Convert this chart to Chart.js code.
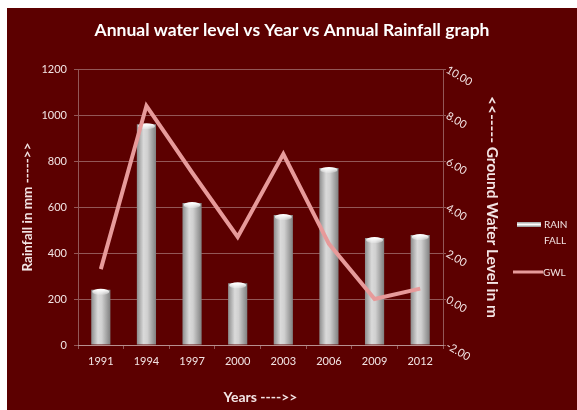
<!DOCTYPE html>
<html>
<head>
<meta charset="utf-8">
<script src="https://cdn.jsdelivr.net/npm/chart.js@4.4.1/dist/chart.umd.min.js"></script>
<style>
  html, body { margin: 0; padding: 0; background: #fff; }
  #marco { position: absolute; left: 7px; top: 8px; width: 570px; height: 402px; background: #5c0000; }
</style>
</head>
<body>
<div id="marco"><canvas id="grafico" width="570" height="402"></canvas></div>
<script>
const years = ['1991', '1994', '1997', '2000', '2003', '2006', '2009', '2012'];
const rainfall = [240, 960, 617, 268, 565, 770, 465, 478];
const gwl = [1.3, 8.4, 5.5, 2.7, 6.3, 2.4, 0.0, 0.45];
const rainTicks = [0, 200, 400, 600, 800, 1000, 1200];
const gwlTicks = [-2, 0, 2, 4, 6, 8, 10];

const textoClaro = '#f3e4e4';
const colorLinea = '#e79a9a';
const colorGrid = 'rgba(255,255,255,0.34)';
const anchoBarra = 0.42;

Chart.defaults.font.family = 'Lato, "Open Sans", sans-serif';
Chart.defaults.color = textoClaro;

// gris cilindrico: oscuro en los bordes, claro al centro
function degradadoBarra(c) {
  const xs = c.chart.scales.x;
  if (!xs || c.type !== 'data') return '#bdbdbd';
  const cx = xs.getPixelForValue(c.dataIndex);
  const w = xs.width / years.length * anchoBarra;
  if (!Number.isFinite(cx) || !Number.isFinite(w) || w <= 0) return '#bdbdbd';
  const g = c.chart.ctx.createLinearGradient(cx - w / 2, 0, cx + w / 2, 0);
  g.addColorStop(0, '#8c8c8c');
  g.addColorStop(0.35, '#dadada');
  g.addColorStop(0.55, '#d0d0d0');
  g.addColorStop(1, '#808080');
  return g;
}

// tapa blanca arriba de cada barra
const tapas = {
  id: 'tapas',
  afterDatasetDraw(chart, args) {
    if (args.index !== 0) return;
    const c = chart.ctx;
    c.save();
    args.meta.data.forEach(b => {
      if (!Number.isFinite(b.x) || !Number.isFinite(b.y)) return;
      const g = c.createLinearGradient(0, b.y, 0, b.y + 5);
      g.addColorStop(0, '#ffffff');
      g.addColorStop(1, 'rgba(255,255,255,0.2)');
      c.fillStyle = g;
      c.beginPath();
      c.ellipse(b.x, b.y + 2, Math.max(b.width / 2 - 1, 1), 3, 0, 0, Math.PI * 2);
      c.fill();
    });
    c.restore();
  }
};

const leyenda = {
  id: 'leyenda',
  afterDraw(chart) {
    const c = chart.ctx;
    c.save();
    const g = c.createLinearGradient(0, 214, 0, 219);
    g.addColorStop(0, '#9a9a9a');
    g.addColorStop(0.5, '#ffffff');
    g.addColorStop(1, '#8a8a8a');
    c.fillStyle = g;
    c.fillRect(510, 214, 24, 5);
    c.strokeStyle = colorLinea;
    c.lineWidth = 3;
    c.beginPath();
    c.moveTo(506, 264);
    c.lineTo(536, 264);
    c.stroke();
    c.fillStyle = textoClaro;
    c.font = '10px Lato';
    c.textBaseline = 'middle';
    c.fillText('RAIN', 537, 217);
    c.fillText('FALL', 537, 233);
    c.fillText('GWL', 536, 265);
    c.restore();
  }
};

new Chart(document.getElementById('grafico'), {
  type: 'bar',
  data: {
    labels: years,
    datasets: [{
      label: 'RAIN FALL',
      data: rainfall,
      backgroundColor: degradadoBarra,
      borderWidth: 0,
      categoryPercentage: 1,
      barPercentage: anchoBarra,
      yAxisID: 'y',
      order: 1
    }, {
      type: 'line',
      label: 'GWL',
      data: gwl,
      borderColor: colorLinea,
      borderWidth: 4,
      pointRadius: 0,
      tension: 0,
      yAxisID: 'y1',
      order: 0
    }]
  },
  options: {
    responsive: false,
    animation: false,
    devicePixelRatio: 1,
    layout: { padding: 0 },
    plugins: {
      legend: { display: false },
      tooltip: { enabled: false },
      title: {
        display: true,
        text: 'Annual water level vs Year vs Annual Rainfall graph',
        color: '#ffffff',
        font: { size: 17.5, weight: 'bold' },
        padding: { top: 11.5, bottom: 28.5 }
      }
    },
    scales: {
      x: {
        afterFit: s => { s.height = 65; },
        grid: { drawOnChartArea: false, color: colorGrid, tickLength: 4 },
        border: { color: colorGrid },
        ticks: { padding: 6, maxRotation: 0, font: { size: 11 }, color: textoClaro },
        title: { display: true, text: 'Years ---->>', font: { size: 14, weight: 'bold' }, color: textoClaro, padding: { top: 0, bottom: 4.6 } }
      },
      y: {
        position: 'left',
        min: 0,
        max: 1200,
        afterBuildTicks: s => { s.ticks = rainTicks.map(v => ({ value: v })); },
        afterFit: s => { s.width = 71; },
        grid: { color: colorGrid, tickLength: 4 },
        border: { color: colorGrid },
        ticks: { padding: 7, font: { size: 11 }, color: textoClaro, callback: v => String(v) },
        title: { display: true, text: 'Rainfall in mm ----->>', font: { size: 13.5, weight: 'bold' }, color: textoClaro, padding: { top: 12.9, bottom: 0 } }
      },
      y1: {
        position: 'right',
        min: -2,
        max: 10,
        afterBuildTicks: s => { s.ticks = gwlTicks.map(v => ({ value: v })); },
        // espacio extra a la derecha para la leyenda
        afterFit: s => { s.width = 134; },
        grid: { drawOnChartArea: false, color: colorGrid, tickLength: 3 },
        border: { color: colorGrid },
        ticks: { padding: 1, minRotation: -30, font: { size: 11 }, color: textoClaro, callback: v => v.toFixed(2) },
        title: { display: true, text: '<<----- Ground Water Level in m', font: { size: 15.5, weight: 'bold' }, color: textoClaro, padding: { top: 75.7, bottom: 0 } }
      }
    }
  },
  plugins: [tapas, leyenda]
});
</script>
</body>
</html>
